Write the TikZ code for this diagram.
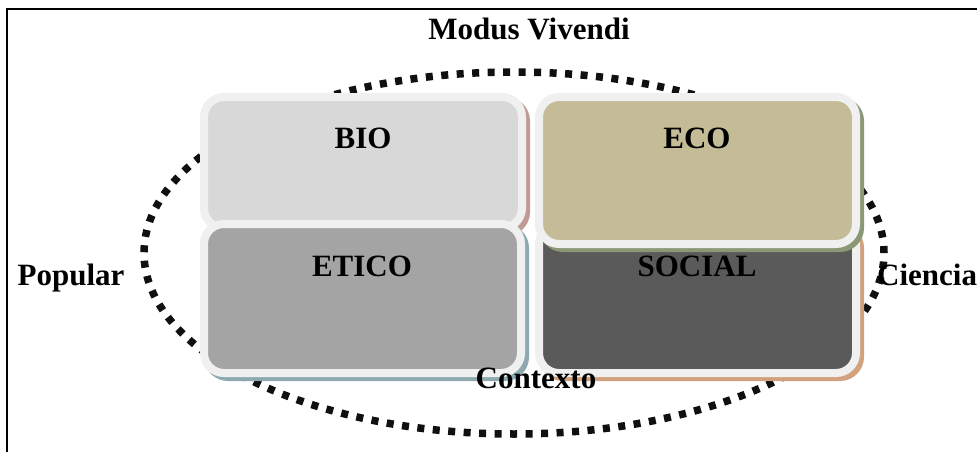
\documentclass[tikz,border=0pt]{standalone}
\usepackage{fontspec}
\setmainfont{Liberation Serif}
\usetikzlibrary{shadows}
\definecolor{rim}{HTML}{F0F0F0}
\definecolor{biofill}{HTML}{D8D8D8}
\definecolor{ecofill}{HTML}{C3BC96}
\definecolor{eticofill}{HTML}{A4A4A4}
\definecolor{socialfill}{HTML}{5A5A5A}
\definecolor{bioshadow}{HTML}{C09A94}
\definecolor{ecoshadow}{HTML}{8A9878}
\definecolor{eticoshadow}{HTML}{8FA9B0}
\definecolor{socialshadow}{HTML}{D2A27E}
\definecolor{dotcol}{HTML}{101010}
\tikzset{
  panel/.style n args={2}{draw=rim, line width=8pt, rounded corners=20pt, fill=#1,
    general shadow={shadow xshift=4pt, shadow yshift=-4pt, fill=#2, draw=#2, line width=8pt}},
  lbl/.style={font=\bfseries\fontsize{31}{31}\selectfont, anchor=base, inner sep=0pt},
  ring/.style={draw=dotcol, line width=7.5pt, dash pattern=on 7pt off 8.5pt},
  frame/.style={draw=black, line width=1.8pt}
}
\begin{document}
\begin{tikzpicture}[x=1pt,y=-1pt]
\useasboundingbox (0,0) rectangle (977,452);
\clip (0,0) rectangle (977,452);
\fill[white] (0,0) rectangle (977,452);
\draw[frame] (7,470) -- (7,9) -- (995,9);
\coordinate (ctr) at (514,253);
\draw[ring] (ctr) ellipse [x radius=370pt, y radius=181pt];
\node[panel={biofill}{bioshadow}, minimum width=318pt, minimum height=131pt, inner sep=0pt] (bio) at (363,162.5) {};
\node[panel={eticofill}{eticoshadow}, minimum width=317pt, minimum height=149pt, inner sep=0pt] (etico) at (362.5,298.5) {};
\node[panel={socialfill}{socialshadow}, minimum width=317pt, minimum height=149pt, inner sep=0pt] (social) at (697.5,298.5) {};
\node[panel={ecofill}{ecoshadow}, minimum width=317pt, minimum height=147pt, inner sep=0pt] (eco) at (697.5,170.5) {};
\node[lbl] (tbio) at (363,148) {BIO};
\node[lbl] (teco) at (697,148) {ECO};
\node[lbl] (tetico) at (362,276) {ETICO};
\node[lbl] (tsocial) at (697,276) {SOCIAL};
\node[lbl] (tmodus) at (529,40) {Modus Vivendi};
\node[lbl] (tcontexto) at (536,388) {Contexto};
\node[lbl] (tpopular) at (71,285) {Popular};
\node[lbl, anchor=base west] (tciencia) at (877,285) {Ciencia};
\end{tikzpicture}
\end{document}
